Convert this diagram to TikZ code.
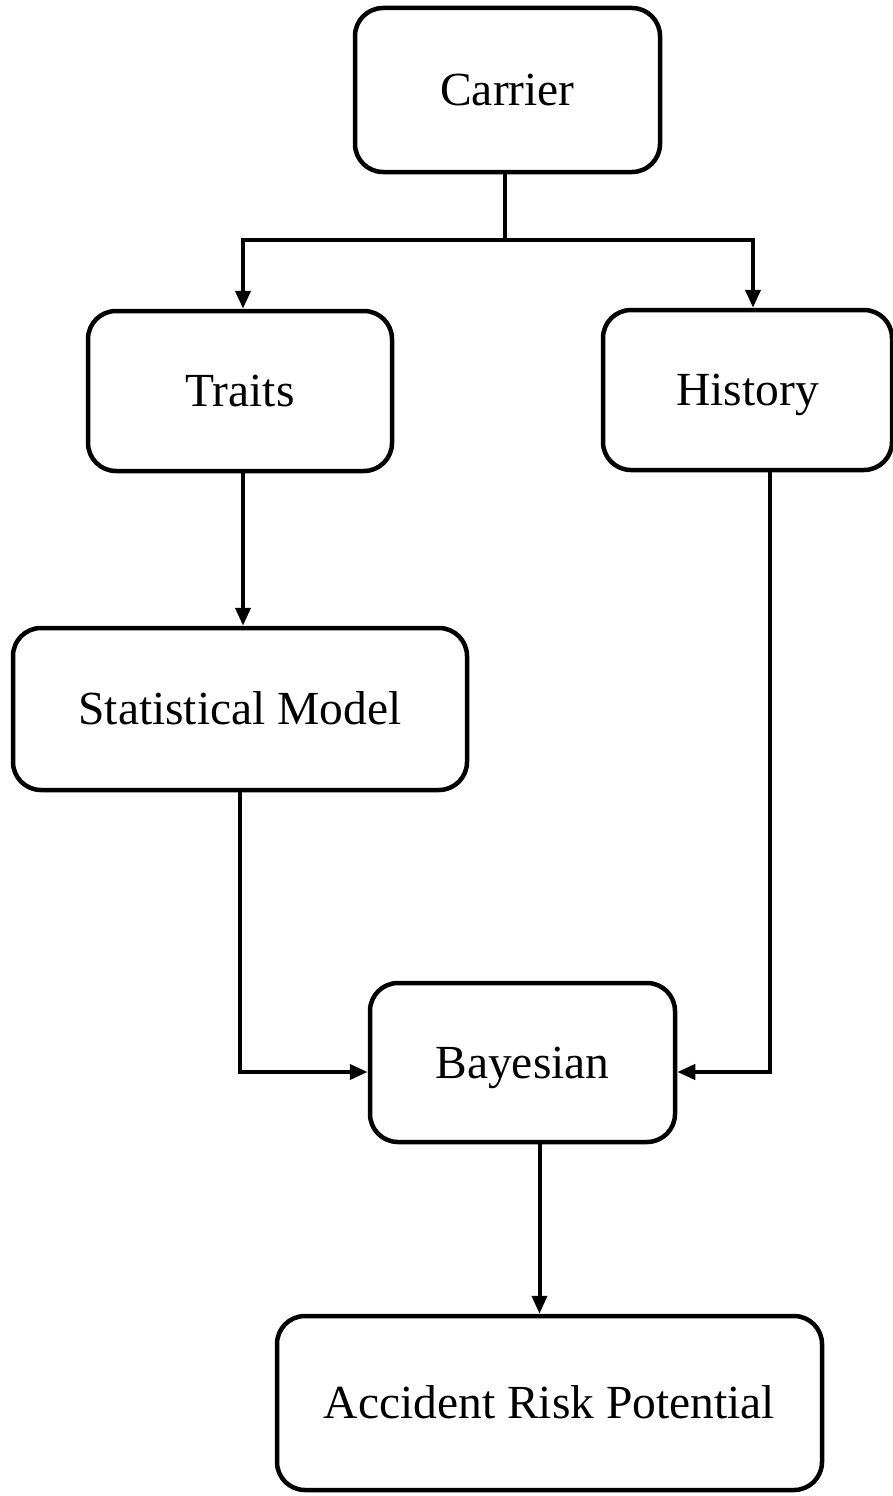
\documentclass[tikz,border=0pt]{standalone}
\usepackage{fontspec}
\setmainfont{Liberation Serif}
\usetikzlibrary{arrows.meta}
\tikzset{
  box/.style={draw, line width=4.5pt, rounded corners=28pt, inner sep=0pt,
    text height=31pt, text depth=0pt,
    font=\fontsize{47.5}{56}\selectfont},
  link/.style={line width=4pt},
  conn/.style={line width=4pt, -{Triangle[length=18pt,width=15pt]}}
}
\begin{document}
\begin{tikzpicture}[x=1pt,y=-1pt]
\useasboundingbox (0,0) rectangle (893,1496);
\node[box, minimum width=305pt, minimum height=164pt] (carrier) at (507.5,90) {Carrier};
\node[box, minimum width=304pt, minimum height=160pt] (traits) at (240,391) {Traits};
\node[box, minimum width=289pt, minimum height=160pt] (history) at (747.5,390) {History};
\node[box, minimum width=454pt, minimum height=162pt] (sm) at (240,709) {Statistical Model};
\node[box, minimum width=305pt, minimum height=159pt] (bayes) at (522.5,1062.5) {Bayesian};
\node[box, minimum width=545pt, minimum height=174pt] (arp) at (549.5,1403) {Accident Risk Potential};
\coordinate (split) at (505,240);
\draw[link] (split |- carrier.south) -- (split);
\draw[conn] (split) -| ([xshift=3pt]traits.north);
\draw[conn] (split) -| ([xshift=5.5pt]history.north);
\draw[conn] ([xshift=3pt]traits.south) -- ([xshift=3pt]sm.north);
\draw[conn] (sm.south) |- ([yshift=-9.5pt]bayes.west);
\draw[conn] ([xshift=22.5pt]history.south) |- ([yshift=-9.5pt]bayes.east);
\draw[conn] ([xshift=17pt]bayes.south) -- ([xshift=17pt]bayes.south |- arp.north);
\end{tikzpicture}
\end{document}
